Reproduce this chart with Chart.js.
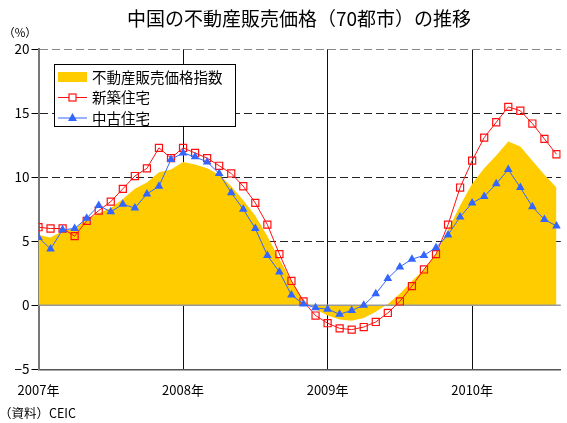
<!DOCTYPE html>
<html>
<head>
<meta charset="utf-8">
<script src="https://cdn.jsdelivr.net/npm/chart.js@4/dist/chart.umd.min.js"></script>
<style>
  html, body { margin: 0; padding: 0; background: #fff; }
  canvas { display: block; }
</style>
</head>
<body>
<canvas id="chart" width="567" height="423"></canvas>
<script>
// monthly, Jan 2007 - Aug 2010 (前年同月比, %)
var months = [
  '2007/01', '2007/02', '2007/03', '2007/04', '2007/05', '2007/06', '2007/07', '2007/08', '2007/09', '2007/10', '2007/11', '2007/12',
  '2008/01', '2008/02', '2008/03', '2008/04', '2008/05', '2008/06', '2008/07', '2008/08', '2008/09', '2008/10', '2008/11', '2008/12',
  '2009/01', '2009/02', '2009/03', '2009/04', '2009/05', '2009/06', '2009/07', '2009/08', '2009/09', '2009/10', '2009/11', '2009/12',
  '2010/01', '2010/02', '2010/03', '2010/04', '2010/05', '2010/06', '2010/07', '2010/08'
];
var priceIndex = [
  5.5, 5.3, 5.8, 6.0, 6.7, 7.2, 7.6, 8.3, 9.1, 9.6, 10.4, 10.6,
  11.2, 11.0, 10.7, 10.2, 9.3, 8.2, 7.0, 5.4, 3.6, 1.9, 0.4, -0.3,
  -0.8, -1.1, -1.2, -1.0, -0.5, 0.1, 0.9, 1.9, 2.8, 4.0, 5.9, 7.8,
  9.5, 10.7, 11.7, 12.8, 12.4, 11.3, 10.2, 9.2
];
var newHomes = [
  6.1, 6.0, 6.0, 5.4, 6.6, 7.4, 8.1, 9.1, 10.1, 10.7, 12.3, 11.5,
  12.3, 11.9, 11.5, 10.9, 10.3, 9.3, 8.0, 6.3, 4.0, 1.9, 0.3, -0.8,
  -1.4, -1.8, -1.9, -1.7, -1.3, -0.6, 0.3, 1.5, 2.8, 4.0, 6.3, 9.2,
  11.3, 13.1, 14.3, 15.5, 15.2, 14.2, 13.0, 11.8
];
var usedHomes = [
  5.3, 4.4, 5.9, 6.0, 6.8, 7.8, 7.3, 7.9, 7.6, 8.7, 9.3, 11.4,
  11.9, 11.6, 11.2, 10.3, 8.8, 7.5, 6.0, 3.9, 2.6, 0.8, 0.1, -0.2,
  -0.3, -0.7, -0.4, 0.0, 0.9, 2.1, 3.0, 3.6, 3.9, 4.5, 5.5, 6.9,
  8.0, 8.5, 9.5, 10.6, 9.2, 7.7, 6.7, 6.2
];
var seriesNames = ['不動産販売価格指数', '新築住宅', '中古住宅'];
var yearTicks = [0, 12, 24, 36];
var yearLabels = ['2007年', '2008年', '2009年', '2010年'];

var FONT = '"Noto Sans CJK JP", "Noto Sans", sans-serif';
var YELLOW = '#FFCC00';
var RED = '#FF1010';
var BLUE = '#3366FF';

function toPoints(values) {
  return values.map(function (v, i) { return { x: i, y: v }; });
}

// zero line over the yellow area, texts and the boxed legend
var decorations = {
  id: 'decorations',
  afterDatasetDraw: function (chart, args) {
    if (args.index !== 0) return;
    var ctx = chart.ctx, area = chart.chartArea;
    var y0 = chart.scales.y.getPixelForValue(0);
    ctx.save();
    ctx.strokeStyle = '#999';
    ctx.lineWidth = 1.5;
    ctx.beginPath();
    ctx.moveTo(area.left, y0);
    ctx.lineTo(area.right, y0);
    ctx.stroke();
    ctx.restore();
  },
  afterDraw: function (chart) {
    var ctx = chart.ctx;
    ctx.save();
    ctx.fillStyle = '#000';
    ctx.textBaseline = 'middle';

    ctx.font = '19px ' + FONT;
    ctx.textAlign = 'center';
    ctx.fillText('中国の不動産販売価格（70都市）の推移', 299, 19);

    ctx.font = '11.5px ' + FONT;
    ctx.fillText('（%）', 20, 33);

    ctx.font = '12.5px ' + FONT;
    ctx.textAlign = 'left';
    ctx.fillText('（資料）CEIC', -1, 413);

    // legend box
    var bx = 54.5, by = 64.5, bw = 181, bh = 62;
    ctx.fillStyle = '#fff';
    ctx.fillRect(bx, by, bw, bh);
    ctx.strokeStyle = '#000';
    ctx.lineWidth = 1;
    ctx.strokeRect(bx, by, bw, bh);

    var rows = [77, 97.5, 118];
    ctx.fillStyle = YELLOW;
    ctx.fillRect(58, 72, 29, 10);

    ctx.strokeStyle = RED;
    ctx.lineWidth = 1;
    ctx.beginPath();
    ctx.moveTo(58, rows[1]);
    ctx.lineTo(87, rows[1]);
    ctx.stroke();
    ctx.fillStyle = '#fff';
    ctx.fillRect(69, rows[1] - 3.5, 7, 7);
    ctx.lineWidth = 1.2;
    ctx.strokeRect(69, rows[1] - 3.5, 7, 7);

    ctx.strokeStyle = BLUE;
    ctx.lineWidth = 1;
    ctx.beginPath();
    ctx.moveTo(58, rows[2]);
    ctx.lineTo(87, rows[2]);
    ctx.stroke();
    ctx.fillStyle = BLUE;
    ctx.beginPath();
    ctx.moveTo(72.5, rows[2] - 5);
    ctx.lineTo(77, rows[2] + 3);
    ctx.lineTo(68, rows[2] + 3);
    ctx.closePath();
    ctx.fill();

    ctx.fillStyle = '#000';
    ctx.font = '14.5px ' + FONT;
    ctx.textAlign = 'left';
    for (var i = 0; i < seriesNames.length; i++) {
      ctx.fillText(seriesNames[i], 92, rows[i]);
    }
    ctx.restore();
  }
};

var ctx = document.getElementById('chart').getContext('2d');
var chart = new Chart(ctx, {
  type: 'line',
  data: {
    datasets: [{
      label: seriesNames[0],
      data: toPoints(priceIndex),
      fill: 'origin',
      backgroundColor: YELLOW,
      borderWidth: 0,
      borderColor: 'rgba(0,0,0,0)',
      pointRadius: 0,
      tension: 0,
      order: 3
    }, {
      label: seriesNames[1],
      data: toPoints(newHomes),
      borderColor: RED,
      borderWidth: 1,
      pointStyle: 'rect',
      pointRadius: 5,
      pointBorderWidth: 1.2,
      pointBorderColor: RED,
      pointBackgroundColor: 'rgba(255,255,255,0)',
      fill: false,
      tension: 0,
      order: 2
    }, {
      label: seriesNames[2],
      data: toPoints(usedHomes),
      borderColor: BLUE,
      borderWidth: 1,
      pointStyle: 'triangle',
      pointRadius: 5,
      pointBorderWidth: 0,
      pointBackgroundColor: BLUE,
      fill: false,
      tension: 0,
      order: 1
    }]
  },
  options: {
    responsive: false,
    animation: false,
    devicePixelRatio: 1,
    layout: { padding: { top: 49.3, left: 0, right: 0, bottom: 0 } },
    plugins: {
      legend: { display: false },
      title: { display: false },
      tooltip: { enabled: false }
    },
    scales: {
      x: {
        type: 'linear',
        min: 0,
        max: 43.36,
        afterBuildTicks: function (scale) {
          scale.ticks = yearTicks.map(function (v) { return { value: v }; });
        },
        afterFit: function (scale) { scale.height = 53.7; },
        ticks: {
          autoSkip: false,
          maxRotation: 0,
          padding: 13,
          color: '#000',
          font: { family: FONT, size: 13 },
          callback: function (value) {
            var k = yearTicks.indexOf(value);
            return k < 0 ? '' : yearLabels[k];
          }
        },
        grid: {
          drawTicks: false,
          lineWidth: 1,
          color: function (c) {
            return c.tick && c.tick.value === 0 ? 'rgba(0,0,0,0)' : '#111';
          }
        },
        border: { display: true, color: '#555', width: 1.5 }
      },
      y: {
        min: -5,
        max: 20,
        afterFit: function (scale) { scale.width = 38.5; },
        ticks: {
          stepSize: 5,
          padding: 2,
          color: '#000',
          font: { family: FONT, size: 13.5 },
          callback: function (value) {
            return value < 0 ? '\u2212' + Math.abs(value) : String(value);
          }
        },
        grid: {
          lineWidth: 1,
          tickLength: 7,
          tickColor: '#000',
          color: function (c) {
            if (!c.tick) return '#000';
            var v = c.tick.value;
            if (v === 0 || v === -5) return 'rgba(0,0,0,0)';
            if (v === 20) return '#888';
            return '#222';
          }
        },
        border: {
          display: true,
          color: '#777',
          width: 2,
          dash: function (c) { return c.tick ? [8, 4] : []; }
        }
      }
    }
  },
  plugins: [decorations]
});
</script>
</body>
</html>
